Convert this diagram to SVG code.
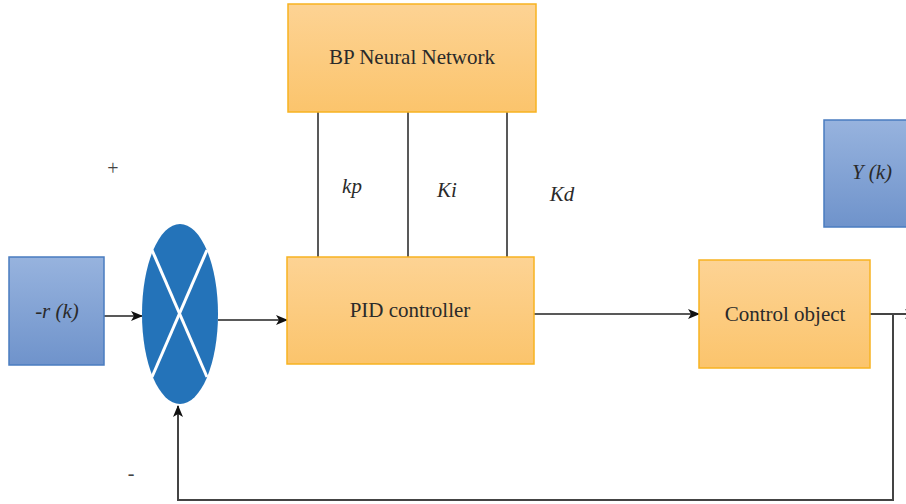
<svg xmlns="http://www.w3.org/2000/svg" width="906" height="504" viewBox="0 0 906 504">
  <defs>
    <linearGradient id="gOrange" x1="0" y1="0" x2="0" y2="1">
      <stop offset="0" stop-color="#fdd394"/>
      <stop offset="1" stop-color="#fbc46c"/>
    </linearGradient>
    <linearGradient id="gBlue" x1="0" y1="0" x2="0" y2="1">
      <stop offset="0" stop-color="#97b3de"/>
      <stop offset="1" stop-color="#6f93cb"/>
    </linearGradient>
    <marker id="arr" viewBox="0 0 12 10" refX="11" refY="5" markerWidth="12" markerHeight="10" markerUnits="userSpaceOnUse" orient="auto">
      <path d="M0,0 L12,5 L0,10 L3,5 Z" fill="#111"/>
    </marker>
  </defs>
  <style>
    .orange { fill: url(#gOrange); stroke: #f7b320; stroke-width: 1.5; }
    .blue { fill: url(#gBlue); stroke: #4a7cc0; stroke-width: 1.5; }
    .lbl { font-family: "Liberation Serif", "Times New Roman", serif; font-size: 21px; fill: #2a2a2a; text-anchor: middle; }
    .it { font-style: italic; }
    .sign { font-family: "Liberation Serif", serif; font-size: 20px; fill: #444; text-anchor: middle; }
    .wire { fill: none; stroke: #222; stroke-width: 1.5; }
    .feed { fill: none; stroke: #444; stroke-width: 2; }
  </style>
  <rect width="906" height="504" fill="#fff"/>

  <g id="connectors">
    <line class="wire" x1="318" y1="112" x2="318" y2="257"/>
    <line class="wire" x1="408" y1="112" x2="408" y2="257"/>
    <line class="wire" x1="507" y1="112" x2="507" y2="257"/>
    <line class="wire" x1="104" y1="316" x2="142" y2="316" marker-end="url(#arr)"/>
    <line class="wire" x1="218" y1="320" x2="287" y2="320" marker-end="url(#arr)"/>
    <line class="wire" x1="534" y1="314" x2="699" y2="314" marker-end="url(#arr)"/>
    <line class="feed" x1="870" y1="314" x2="916" y2="314" marker-end="url(#arr)"/>
    <polyline class="feed" points="893,314 893,500 178,500 178,406" marker-end="url(#arr)"/>
  </g>

  <g id="bp-network">
    <rect class="orange" x="288" y="4" width="248" height="108"/>
    <text class="lbl" x="412" y="64">BP Neural Network</text>
  </g>

  <g id="pid-controller">
    <rect class="orange" x="287" y="257" width="247" height="107"/>
    <text class="lbl" x="410" y="317">PID controller</text>
  </g>

  <g id="control-object">
    <rect class="orange" x="699" y="260" width="171" height="108"/>
    <text class="lbl" x="785" y="321">Control object</text>
  </g>

  <g id="input">
    <rect class="blue" x="9" y="257" width="95" height="108"/>
    <text class="lbl it" x="57" y="318">-r (k)</text>
  </g>

  <g id="output">
    <rect class="blue" x="824" y="120" width="84" height="107"/>
    <text class="lbl it" x="872" y="179">Y (k)</text>
  </g>

  <g id="summing-junction">
    <ellipse cx="180" cy="314" rx="38" ry="90" fill="#2473b9"/>
    <line x1="152" y1="250" x2="207" y2="377" stroke="#fff" stroke-width="3"/>
    <line x1="207" y1="250" x2="152" y2="377" stroke="#fff" stroke-width="3"/>
  </g>

  <g id="gain-labels">
    <text class="lbl it" x="352" y="193">kp</text>
    <text class="lbl it" x="447" y="197">Ki</text>
    <text class="lbl it" x="562" y="201">Kd</text>
  </g>

  <g id="signs">
    <text class="sign" x="113" y="175">+</text>
    <text class="sign" x="131" y="480">-</text>
  </g>
</svg>
